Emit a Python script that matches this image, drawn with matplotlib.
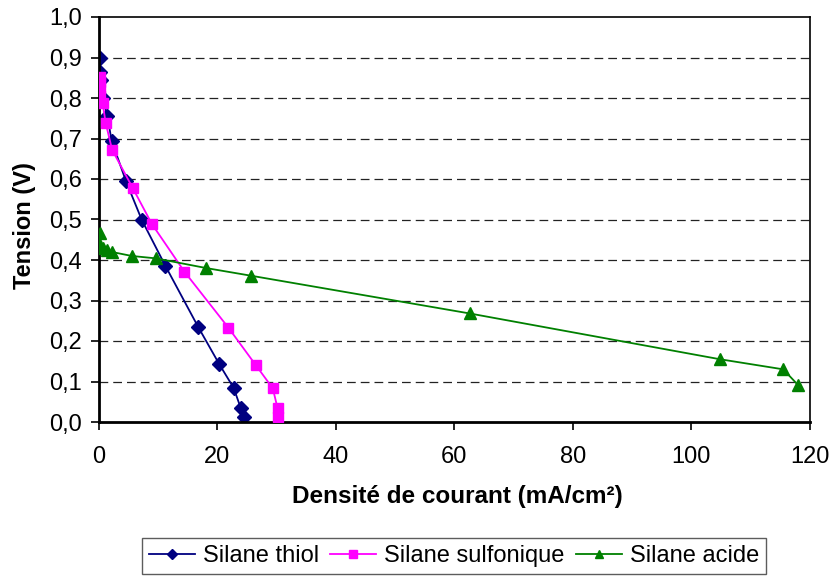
import matplotlib
matplotlib.use("Agg")
import matplotlib.pyplot as plt
from matplotlib.ticker import FuncFormatter, MultipleLocator

plt.rcParams['font.family'] = ['Liberation Sans', 'DejaVu Sans']

thiol_x = [0.2, 0.2, 0.5, 0.7, 1.5, 2.2, 4.6, 7.3, 11.3, 16.8, 20.4, 22.8, 24.0, 24.5]
thiol_y = [0.898, 0.865, 0.845, 0.800, 0.756, 0.695, 0.596, 0.499, 0.385, 0.235, 0.142, 0.084, 0.034, 0.013]

sulf_x = [0.2, 0.2, 0.3, 0.3, 0.7, 1.2, 2.3, 5.8, 9.0, 14.5, 21.9, 26.5, 29.4, 30.2, 30.3]
sulf_y = [0.853, 0.840, 0.825, 0.805, 0.788, 0.739, 0.672, 0.577, 0.489, 0.371, 0.233, 0.141, 0.083, 0.034, 0.013]

acide_x = [0.25, 0.25, 0.8, 1.4, 2.2, 5.6, 9.7, 18.2, 25.8, 62.6, 104.8, 115.5, 118.0]
acide_y = [0.466, 0.437, 0.429, 0.425, 0.420, 0.410, 0.404, 0.380, 0.361, 0.268, 0.155, 0.130, 0.091]

labels = ["Silane thiol", "Silane sulfonique", "Silane acide"]
x_label = "Densité de courant (mA/cm²)"
y_label = "Tension (V)"

W, H = 832, 577
fig = plt.figure(figsize=(W / 100, H / 100), dpi=100)
L, R, T, B = 98.5, 810, 17, 422
ax = fig.add_axes([L / W, 1 - B / H, (R - L) / W, (B - T) / H])

ax.plot(thiol_x, thiol_y, color='#000080', marker='D', markersize=7, lw=1.3, label=labels[0], zorder=2)
ax.plot(sulf_x, sulf_y, color='#FF00FF', marker='s', markersize=7, lw=1.3, label=labels[1], zorder=3)
ax.plot(acide_x, acide_y, color='#008000', marker='^', markersize=8.5, lw=1.3, label=labels[2], zorder=4)

ax.set_xlim(0, 120)
ax.set_ylim(0, 1.0)
ax.xaxis.set_major_locator(MultipleLocator(20))
ax.yaxis.set_major_locator(MultipleLocator(0.1))
ax.yaxis.set_major_formatter(FuncFormatter(lambda v, p: f"{v:.1f}".replace('.', ',')))

for yv in [0.1, 0.2, 0.3, 0.4, 0.5, 0.6, 0.7, 0.8, 0.9]:
    ax.axhline(yv, color='#222222', lw=0.9, ls=(0, (7, 4)), zorder=0)

for s in ['left', 'bottom']:
    ax.spines[s].set_linewidth(2)
for s in ['top', 'right']:
    ax.spines[s].set_linewidth(1.2)

ax.tick_params(axis='both', direction='out', length=6, width=1.2, labelsize=17)
ax.tick_params(axis='x', pad=11)
ax.tick_params(axis='y', pad=6)

ax.set_xlabel(x_label, fontsize=17.5, fontweight='bold', va='center')
ax.xaxis.set_label_coords((457.5 - L) / (R - L), -(497 - B) / (B - T))
ax.set_ylabel(y_label, fontsize=17, fontweight='bold', va='center')
ax.yaxis.set_label_coords((25 - L) / (R - L), (B - 226) / (B - T))

leg = fig.legend(loc='upper left', bbox_to_anchor=(141.7 / W, 1 - 537.7 / H), borderaxespad=0,
                 ncol=3, fontsize=17, frameon=True, fancybox=False, edgecolor='#333333',
                 handlelength=1.95, handletextpad=0.34, columnspacing=0.47, borderpad=0.3,
                 markerscale=0.75)
leg.get_frame().set_linewidth(1.0)

fig.savefig("out.png", dpi=100)
